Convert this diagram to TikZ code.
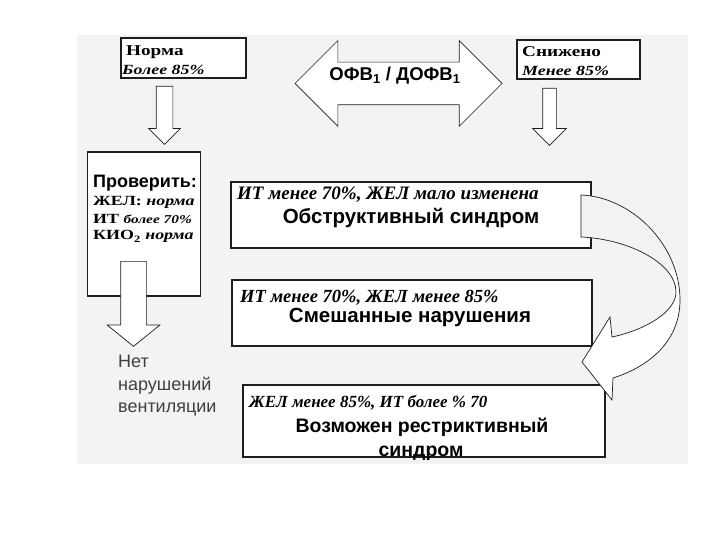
\documentclass[tikz,border=0pt]{standalone}
\usepackage{fontspec}
\setmainfont{Liberation Serif}
\setsansfont{Liberation Sans}
\newfontfamily\wideserif[FakeStretch=1.28]{Liberation Serif}
\usetikzlibrary{shapes.arrows,positioning}
\definecolor{ScanGray}{HTML}{F3F3F3}
\definecolor{InkDark}{HTML}{1E1E1E}
\tikzset{
  framebox/.style={draw=InkDark, line width=1.1pt, fill=white, inner sep=0pt},
  blockdown/.style={single arrow, draw=InkDark, fill=white, line width=0.7pt,
                    rotate=-90, inner xsep=0pt, anchor=tail},
  blockdouble/.style={double arrow, draw=InkDark, fill=white, line width=0.7pt,
                      inner xsep=0pt},
  boxhead/.style={inner sep=0pt, anchor=base west, font=\wideserif\fontsize{15}{17}\selectfont\bfseries},
  boxsub/.style={inner sep=0pt, anchor=base west, font=\wideserif\fontsize{14}{16}\selectfont\bfseries\itshape},
  checkline/.style={inner sep=0pt, anchor=base west, font=\wideserif\fontsize{14}{16}\selectfont\bfseries},
  condline/.style={inner sep=0pt, anchor=base west, font=\fontsize{18.5}{20}\selectfont\bfseries\itshape},
  diagline/.style={inner sep=0pt, anchor=base, font=\fontsize{20.5}{22}\selectfont\sffamily\bfseries},
  plainline/.style={inner sep=0pt, anchor=base west, text=InkDark!85, font=\fontsize{18}{20}\selectfont\sffamily},
  curvearrow/.style={draw=InkDark, line width=0.7pt}
}
\begin{document}
\begin{tikzpicture}[x=1pt, y=-1pt]
  \useasboundingbox (0,0) rectangle (720,540);
  \fill[ScanGray] (77,35) rectangle (688,464);

  % top row
  \node[framebox, minimum width=125pt, minimum height=40pt] (norm) at (183.5,58) {};
  \node[boxhead] (normT) at (126,56) {Норма};
  \node[boxsub] (normS) at (122,75) {Более 85\%};
  \node[framebox, minimum width=123pt, minimum height=39pt] (low) at (578.5,59.5) {};
  \node[boxhead] (lowT) at (522,57) {Снижено};
  \node[boxsub] (lowS) at (522,76) {Менее 85\%};
  \node[blockdouble, minimum height=207pt, minimum width=85pt, inner ysep=21pt,
        double arrow head extend=21.5pt] (ofv) at (398.5,83.5) {};
  \node[inner sep=0pt, anchor=base, font=\fontsize{18.5}{20}\selectfont\sffamily\bfseries]
       (ofvT) at (395,81) {ОФВ\textsubscript{1} / ДОФВ\textsubscript{1}};

  % down arrows
  \node[blockdown, minimum height=58pt, minimum width=31pt, inner ysep=8pt,
        single arrow head extend=7.5pt] (arrN) at (164.5,86) {};
  \node[blockdown, minimum height=57pt, minimum width=33pt, inner ysep=6.5pt,
        single arrow head extend=10pt] (arrL) at (549.5,88) {};

  % check box
  \node[framebox, minimum width=113pt, minimum height=144pt] (check) at (144,224) {};
  \node[checkline, font=\fontsize{18}{20}\selectfont\sffamily\bfseries] (chk0) at (93,188) {Проверить:};
  \node[checkline] (chk1) at (93,206) {ЖЕЛ: \textit{норма}};
  \node[checkline] (chk2) at (93,223) {ИТ \textit{\fontsize{12}{14}\selectfont более 70\%}};
  \node[checkline] (chk3) at (93,240) {КИО\textsubscript{2} \textit{норма}};
  \node[blockdown, minimum height=85pt, minimum width=52pt, inner ysep=12.5pt,
        single arrow head extend=13.5pt, single arrow tip angle=102] (arrC) at (133.5,261) {};
  \node[plainline] (ok1) at (118,367) {Нет};
  \node[plainline] (ok2) at (118,390) {нарушений};
  \node[plainline] (ok3) at (118,412) {вентиляции};

  % diagnoses
  \node[framebox, minimum width=360pt, minimum height=66pt] (obstr) at (411,215) {};
  \node[condline, font=\fontsize{19}{21}\selectfont\bfseries\itshape] (obstrA) at (237,200) {ИТ менее 70\%, ЖЕЛ мало изменена};
  \node[diagline] (obstrB) at (411,223) {Обструктивный синдром};
  \node[framebox, minimum width=360pt, minimum height=66pt] (mixed) at (412,313) {};
  \node[condline] (mixedA) at (240,302) {ИТ менее 70\%, ЖЕЛ менее 85\%};
  \node[diagline] (mixedB) at (410,322) {Смешанные нарушения};
  \node[framebox, minimum width=362pt, minimum height=72pt] (restr) at (424,421) {};
  \node[condline, font=\fontsize{17}{19}\selectfont\bfseries\itshape] (restrA) at (249,407) {ЖЕЛ менее 85\%, ИТ более \% 70};
  \node[diagline, font=\fontsize{19.5}{21}\selectfont\sffamily\bfseries] (restrB) at (422,432) {Возможен рестриктивный};
  \node[diagline, font=\fontsize{19.5}{21}\selectfont\sffamily\bfseries] (restrC) at (421,456) {синдром};

  % curved arrow from obstr to restr
  \path[save path=\bendpath]
    (581,195) .. controls (632,197) and (680,245) .. (680,300)
              .. controls (680,342) and (648,367) .. (613,378)
    -- (612,400) -- (582,362) -- (610,317) -- (612,337)
              .. controls (645,330) and (676,312) .. (676,292)
              .. controls (676,263) and (628,239) .. (581,237) -- cycle;
  \fill[white, use path=\bendpath];
  \begin{scope}
    \clip (570,180) rectangle (700,270);
    \fill[gray!10, use path=\bendpath];
  \end{scope}
  \draw[curvearrow, use path=\bendpath];
\end{tikzpicture}
\end{document}
